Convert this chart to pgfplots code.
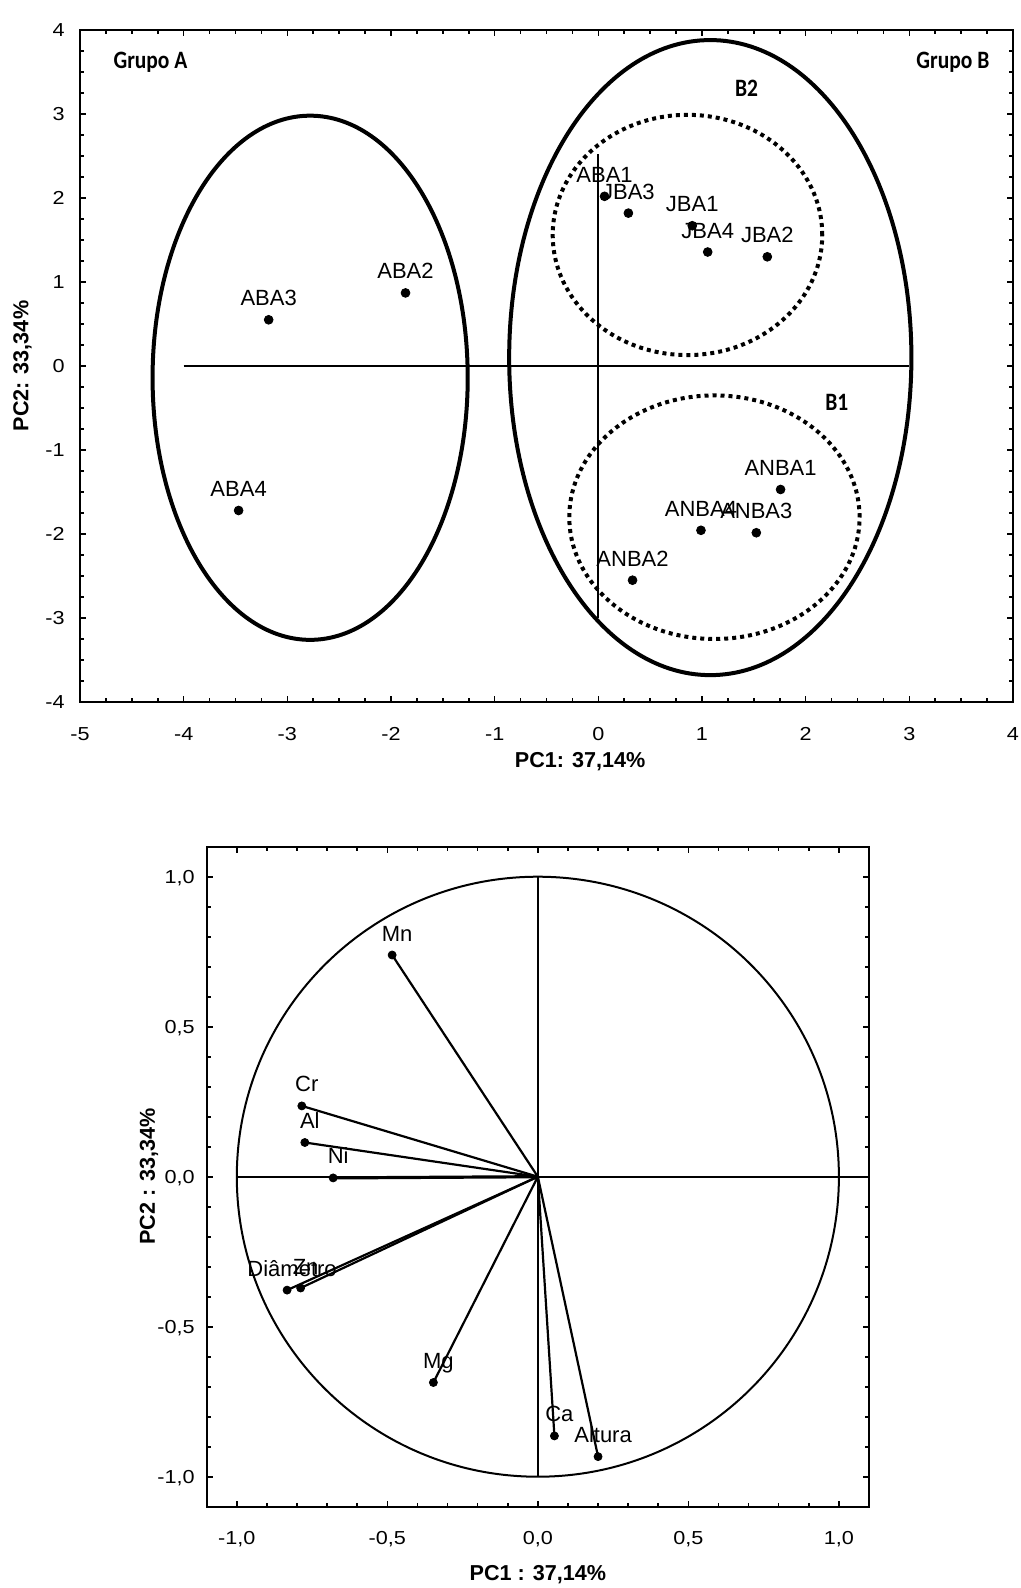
\documentclass[border=0pt]{standalone}
\usepackage{fontspec}
\setmainfont{Liberation Sans}
\newfontfamily\carlito[FakeStretch=0.86]{Carlito}
\newfontfamily\tickfont[FakeStretch=1.15]{Liberation Sans}
\usepackage{pgfplots}
\usepackage{pgfplotstable}
\pgfplotsset{compat=1.18}

\pgfplotstableread{
x y label
-3.18 0.55 ABA3
-1.86 0.87 ABA2
-3.47 -1.72 ABA4
0.06 2.02 ABA1
0.29 1.82 JBA3
0.906 1.67 JBA1
1.055 1.357 JBA4
1.63 1.30 JBA2
1.758 -1.47 ANBA1
0.99 -1.956 ANBA4
1.524 -1.985 ANBA3
0.33 -2.55 ANBA2
}\scores

\pgfplotstableread{
x y label
-0.484 0.739 Mn
-0.784 0.236 Cr
-0.774 0.114 Al
-0.680 -0.004 Ni
-0.833 -0.378 Diâmetro
-0.788 -0.371 Zn
-0.347 -0.686 Mg
0.055 -0.864 Ca
0.200 -0.933 Altura
}\loadings

\pgfplotsset{
  common/.style={
    scale only axis,
    clip=false,
    tick align=inside,
    axis line style={line width=1pt},
    tick style={black, line width=0.8pt},
    major tick length=3pt,
    minor tick length=2pt,
    /pgf/number format/assume math mode=true,
    tick label style={font=\tickfont\fontsize{9.4}{11}\selectfont},
    label style={font=\bfseries\fontsize{10.8}{12}\selectfont},
  }
}

\begin{document}
\begin{tikzpicture}
\path[use as bounding box] (0,0) rectangle (510.5pt,-794pt);

% ---------------- Top: scores ----------------
\begin{axis}[common,
  at={(40pt,-351pt)}, anchor=south west,
  width=466.5pt, height=336pt,
  xmin=-5, xmax=4, ymin=-4, ymax=4,
  xtick={-5,...,4}, ytick={-4,...,4},
  minor tick num=3,
  xticklabel style={anchor=base, inner sep=0pt, yshift=-19pt},
  yticklabel style={anchor=base east, inner sep=0pt, xshift=-7.5pt, yshift=-3.3pt},
  xlabel={PC1: 37,14\%},
  ylabel={PC2: 33,34\%},
  xlabel style={at={(axis description cs:0.536,-0.088)}, anchor=center},
  ylabel style={at={(axis description cs:-0.0616,0.5)}, anchor=center},
]
\addplot[black, line width=0.85pt] coordinates {(-4,0) (3,0)};
\addplot[black, line width=0.85pt] coordinates {(0,-3) (0,2.52)};
\draw[line width=2pt] (axis cs:-2.78,-0.14) ellipse [x radius=1.52, y radius=3.12];
\draw[line width=2pt] (axis cs:1.08,0.10) ellipse [x radius=1.94, y radius=3.78];
\draw[line width=2pt, dash pattern=on 2pt off 2pt] (axis cs:0.86,1.56) ellipse [x radius=1.30, y radius=1.43];
\draw[line width=2pt, dash pattern=on 2pt off 2pt] (axis cs:1.12,-1.80) ellipse [x radius=1.40, y radius=1.45];
\addplot[only marks, mark=*, mark size=2.2pt, black,
  point meta=explicit symbolic, nodes near coords,
  nodes near coords style={anchor=base, inner sep=0pt, yshift=7pt, font=\fontsize{11}{13}\selectfont, text=black}]
  table[x=x, y=y, meta=label] {\scores};
\node[font=\carlito\bfseries\fontsize{12.5}{14}\selectfont] at (axis cs:-4.32,3.62) {Grupo A};
\node[font=\carlito\bfseries\fontsize{12.5}{14}\selectfont] at (axis cs:3.42,3.62) {Grupo B};
\node[font=\carlito\bfseries\fontsize{12.5}{14}\selectfont] at (axis cs:1.43,3.30) {B2};
\node[font=\carlito\bfseries\fontsize{12.5}{14}\selectfont] at (axis cs:2.30,-0.43) {B1};
\end{axis}

% ---------------- Bottom: loadings ----------------
\begin{axis}[common,
  at={(103.35pt,-753.35pt)}, anchor=south west,
  width=331.15pt, height=330pt,
  xmin=-1.1, xmax=1.1, ymin=-1.1, ymax=1.1,
  xtick={-1,-0.5,0,0.5,1}, ytick={-1,-0.5,0,0.5,1},
  minor tick num=4,
  /pgf/number format/.cd, use comma, fixed, fixed zerofill, precision=1, /pgfplots/.cd,
  xticklabel style={anchor=base, inner sep=0pt, yshift=-19pt},
  yticklabel style={anchor=base east, inner sep=0pt, xshift=-5.85pt, yshift=-3.3pt},
  xlabel={PC1 : 37,14\%},
  ylabel={PC2 : 33,34\%},
  xlabel style={at={(axis description cs:0.5,-0.1035)}, anchor=center},
  ylabel style={at={(axis description cs:-0.0871,0.5)}, anchor=center},
]
\draw[line width=1pt] (axis cs:0,0) ellipse [x radius=1, y radius=1];
\addplot[black, line width=0.9pt] coordinates {(-1,0) (1.1,0)};
\addplot[black, line width=0.9pt] coordinates {(0,-1) (0,1)};
\addplot[black, line width=1.1pt] coordinates {(0,0) (-0.484,0.739)};
\addplot[black, line width=1.1pt] coordinates {(0,0) (-0.784,0.236)};
\addplot[black, line width=1.1pt] coordinates {(0,0) (-0.774,0.114)};
\addplot[black, line width=1.6pt] coordinates {(0,0) (-0.680,-0.004)};
\addplot[black, line width=1.1pt] coordinates {(0,0) (-0.833,-0.378)};
\addplot[black, line width=1.1pt] coordinates {(0,0) (-0.788,-0.371)};
\addplot[black, line width=1.1pt] coordinates {(0,0) (-0.347,-0.686)};
\addplot[black, line width=1.1pt] coordinates {(0,0) (0.055,-0.864)};
\addplot[black, line width=1.1pt] coordinates {(0,0) (0.200,-0.933)};
\addplot[only marks, mark=*, mark size=2pt, black,
  point meta=explicit symbolic, nodes near coords,
  nodes near coords style={anchor=base, inner sep=0pt, yshift=7pt, xshift=2.5pt, font=\fontsize{11}{13}\selectfont, text=black}]
  table[x=x, y=y, meta=label] {\loadings};
\end{axis}
\end{tikzpicture}
\end{document}
